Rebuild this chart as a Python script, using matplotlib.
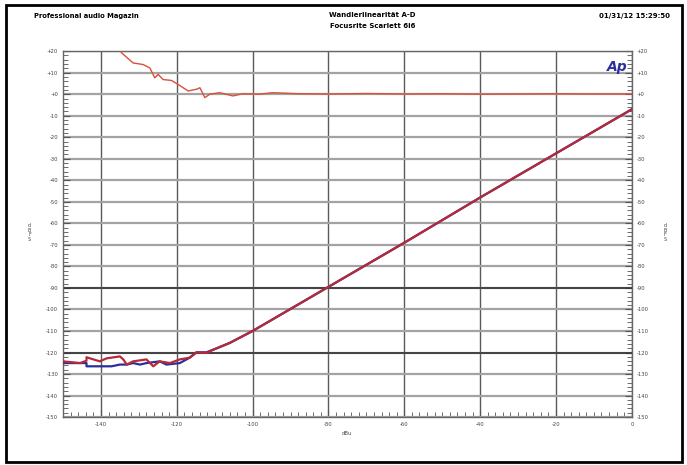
import numpy as np
import matplotlib.pyplot as plt
from matplotlib.patches import Rectangle
from matplotlib.ticker import MultipleLocator

# Messwerte (dBu Eingang -> dBFS Ausgang)
noise_red_x = [-150, -145.5, -143.8, -143.8, -140.3, -138.5, -135, -134.1, -133.2, -131.5,
               -128, -126.2, -124.5, -121.8, -119.2, -116.6, -114.8, -112.2, -110.4, -106.1]
noise_red_y = [-124.1, -124.9, -123.8, -122.2, -124.1, -122.7, -121.8, -123.2, -125.6, -124.1,
               -123.2, -126.4, -124.1, -124.9, -123.2, -122.4, -119.9, -120.2, -118.7, -115.6]
noise_blue_x = [-150, -143.8, -143.8, -137.2, -135, -133.2, -131.5, -129.7, -128, -124.5,
                -122.7, -119.2, -116.6, -114.8, -112.2, -110.4, -106.1]
noise_blue_y = [-124.9, -124.9, -126.4, -126.4, -125.6, -125.6, -124.9, -125.6, -124.9, -124.1,
                -125.6, -124.9, -122.4, -119.9, -119.9, -118.7, -115.6]
diag_x = [-100, -80, -60, -40, -20, 0]
diag_y = [-110, -89.5, -69, -48, -27.5, -7]

# Abweichung von der Linearität
dev_x = [-135.5, -134.6, -131.5, -128.9, -127.1, -125.8, -124.9, -123.6, -121.4, -119.7,
         -117.0, -114.8, -113.9, -112.6, -111.3, -108.7, -105.2, -102.6, -98.2, -94.7,
         -87.6, -80, -70, -60, -50, -40, -30, -20, -10, 0]
dev_y = [22, 19.3, 14.5, 13.8, 12.2, 7.6, 9.2, 6.8, 6.4, 4.6,
         1.5, 2.3, 3.0, -1.6, 0, 0.7, -0.8, 0.2, 0, 0.7,
         0.2, 0.1, 0.3, 0.1, 0.2, 0, 0.1, 0.2, 0.1, 0.1]

fig = plt.figure(figsize=(6.87, 4.65), dpi=100)
fig.patch.set_facecolor('white')
ax = fig.add_axes([0.0917, 0.103, 0.828, 0.787])

ax.plot(noise_blue_x + diag_x, noise_blue_y + diag_y, color='#2b2f9c', lw=1.6, zorder=3)
ax.plot(noise_red_x + diag_x, noise_red_y + diag_y, color='#b52a38', lw=1.6, zorder=4)
ax.plot(dev_x, dev_y, color='#d9503a', lw=1.0, zorder=4)

ax.set_xlim(-150, 0)
ax.set_ylim(-150, 20)
ax.set_xticks(np.arange(-140, 1, 20))
ax.set_yticks(np.arange(-150, 21, 10))
ax.xaxis.set_minor_locator(MultipleLocator(2))
ax.yaxis.set_minor_locator(MultipleLocator(2))
ax.set_xticklabels([str(v) for v in range(-140, 1, 20)])
ax.set_yticklabels(['%+d' % v if v != 0 else '+0' for v in range(-150, 21, 10)])

ax.grid(True, which='major', axis='y', color='#a3a3a3', lw=1.6)
ax.grid(True, which='major', axis='x', color='#5a5a5a', lw=1.0)
for v in (-90, -120):
    ax.axhline(v, color='#333333', lw=1.2, zorder=2)

ax.tick_params(which='both', direction='in', color='#555555',
               labelsize=3.8, labelcolor='#444444', right=True, labelright=True, top=False)
ax.tick_params(which='major', length=5, width=0.8)
ax.tick_params(which='minor', length=3.5, width=0.6)
for s in ax.spines.values():
    s.set_color('#666666')
    s.set_linewidth(1.0)

ax.set_xlabel('dBu', fontsize=3.8, color='#444444', labelpad=3)
fig.text(0.043, 0.50, 'd\nB\nF\nS', fontsize=3.5, color='#444444', ha='center', va='center', linespacing=0.9)
fig.text(0.968, 0.50, 'd\nB\nF\nS', fontsize=3.5, color='#444444', ha='center', va='center', linespacing=0.9)

ax.text(0.992, 0.975, 'Ap', transform=ax.transAxes, fontsize=10, fontweight='bold',
        fontstyle='italic', color='#2d2f9e', ha='right', va='top', zorder=6)

# Kopfzeile
fig.text(0.05, 0.966, 'Professional audio Magazin', fontsize=4.9, fontweight='bold', va='center')
fig.text(0.542, 0.968, 'Wandlerlinearität A-D', fontsize=5.0, fontweight='bold', ha='center', va='center')
fig.text(0.542, 0.945, 'Focusrite Scarlett 6i6', fontsize=5.0, fontweight='bold', ha='center', va='center')
fig.text(0.975, 0.966, '01/31/12 15:29:50', fontsize=5.0, fontweight='bold', ha='right', va='center')

fig.patches.append(Rectangle((0.009, 0.006), 0.983, 0.983, transform=fig.transFigure,
                             fill=False, edgecolor='black', lw=2.0))

fig.savefig('out.png', dpi=100)
